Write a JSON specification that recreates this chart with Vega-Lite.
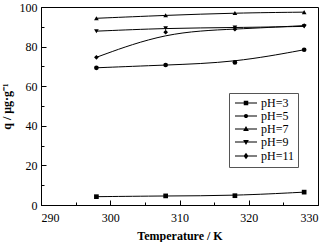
{
  "$schema": "https://vega.github.io/schema/vega-lite/v6.json",
  "width": 277,
  "height": 198,
  "autosize": {"type": "none"},
  "padding": {"left": 41, "top": 7, "right": 16, "bottom": 37},
  "background": "white",
  "config": {
    "view": {"stroke": "black", "strokeWidth": 1},
    "font": "Liberation Serif",
    "axis": {
      "domainColor": "black",
      "tickColor": "black",
      "labelColor": "black",
      "titleColor": "black",
      "labelFont": "Liberation Serif",
      "titleFont": "Liberation Serif",
      "labelFontSize": 12,
      "titleFontSize": 12,
      "titleFontWeight": "bold",
      "grid": false
    }
  },
  "data": {
    "values": [
      {"T": 298, "q": 4.2, "pH": "pH=3"},
      {"T": 308, "q": 4.6, "pH": "pH=3"},
      {"T": 318, "q": 4.7, "pH": "pH=3"},
      {"T": 328, "q": 6.5, "pH": "pH=3"},
      {"T": 298, "q": 69.3, "pH": "pH=5"},
      {"T": 308, "q": 70.7, "pH": "pH=5"},
      {"T": 318, "q": 72.0, "pH": "pH=5"},
      {"T": 328, "q": 78.4, "pH": "pH=5"},
      {"T": 298, "q": 94.3, "pH": "pH=7"},
      {"T": 308, "q": 95.8, "pH": "pH=7"},
      {"T": 318, "q": 97.0, "pH": "pH=7"},
      {"T": 328, "q": 97.4, "pH": "pH=7"},
      {"T": 298, "q": 87.8, "pH": "pH=9"},
      {"T": 308, "q": 89.3, "pH": "pH=9"},
      {"T": 318, "q": 89.6, "pH": "pH=9"},
      {"T": 328, "q": 90.2, "pH": "pH=9"},
      {"T": 298, "q": 74.6, "pH": "pH=11"},
      {"T": 308, "q": 87.3, "pH": "pH=11"},
      {"T": 318, "q": 88.8, "pH": "pH=11"},
      {"T": 328, "q": 90.6, "pH": "pH=11"}
    ]
  },
  "encoding": {
    "x": {
      "field": "T", "type": "quantitative",
      "scale": {"domain": [290, 330], "nice": false, "zero": false},
      "axis": {
        "title": "Temperature / K",
        "values": [290, 295, 300, 305, 310, 315, 320, 325, 330],
        "labelExpr": "datum.value % 10 === 0 ? datum.label : ''",
        "tickSize": {"condition": {"test": "datum.value % 10 === 0", "value": -5}, "value": -3},
        "labelPadding": 12,
        "titlePadding": 7
      }
    },
    "y": {
      "field": "q", "type": "quantitative",
      "scale": {"domain": [0, 100], "nice": false},
      "axis": {
        "title": "q / μg·g⁻¹",
        "values": [0, 10, 20, 30, 40, 50, 60, 70, 80, 90, 100],
        "labelExpr": "datum.value % 20 === 0 ? datum.label : ''",
        "tickSize": {"condition": {"test": "datum.value % 20 === 0", "value": -5}, "value": -3},
        "labelPadding": 9,
        "titlePadding": 6
      }
    }
  },
  "layer": [
    {
      "mark": {"type": "line", "color": "black", "strokeWidth": 1, "interpolate": "basis"},
      "encoding": {"detail": {"field": "pH"}, "order": {"field": "T"}}
    },
    {
      "mark": {"type": "point", "filled": true, "color": "black", "size": 22, "opacity": 1},
      "encoding": {
        "shape": {
          "field": "pH", "type": "nominal",
          "scale": {
            "domain": ["pH=3", "pH=5", "pH=7", "pH=9", "pH=11"],
            "range": ["square", "circle", "triangle-up", "triangle-down", "diamond"]
          },
          "legend": null
        }
      }
    },
    {
      "transform": [{"filter": "false"}],
      "mark": {"type": "point", "filled": true, "color": "black", "opacity": 1},
      "encoding": {
        "shape": {
          "field": "pH", "type": "nominal",
          "scale": {
            "domain": ["pH=3", "pH=5", "pH=7", "pH=9", "pH=11"],
            "range": [
              "M-3.67,-0.17H3.67V0.17H-3.67ZM-0.75,-0.75H0.75V0.75H-0.75Z",
              "M-3.67,-0.17H3.67V0.17H-3.67ZM-0.7,0A0.7,0.7,0,1,1,0.7,0A0.7,0.7,0,1,1,-0.7,0Z",
              "M-3.67,-0.17H3.67V0.17H-3.67ZM0,-1L0.95,0.65H-0.95Z",
              "M-3.67,-0.17H3.67V0.17H-3.67ZM0,1L-0.95,-0.65H0.95Z",
              "M-3.67,-0.17H3.67V0.17H-3.67ZM0,-1.05L0.8,0L0,1.05L-0.8,0Z"
            ]
          },
          "legend": {
            "title": null,
            "orient": "none",
            "legendX": 188,
            "legendY": 86,
            "padding": 4,
            "strokeColor": "#555",
            "fillColor": "white",
            "labelFont": "Liberation Serif",
            "labelFontSize": 12,
            "labelColor": "black",
            "symbolSize": 36,
            "symbolOffset": 7,
            "labelOffset": 9,
            "rowPadding": 1
          }
        }
      }
    }
  ],
  "resolve": {"scale": {"shape": "independent"}}
}
